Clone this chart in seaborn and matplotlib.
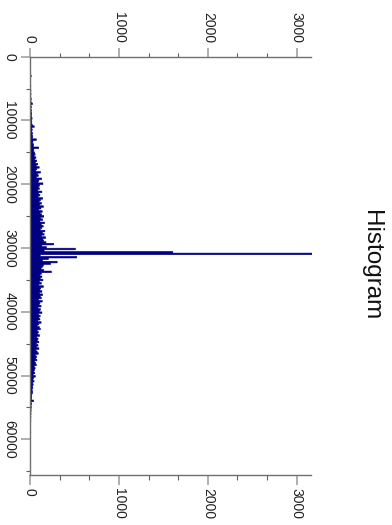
import numpy as np
import pandas as pd
import matplotlib
matplotlib.use("Agg")
import matplotlib.pyplot as plt
from matplotlib.ticker import MultipleLocator
import seaborn as sns

# ---- data: 256 bins of width 256 over 0..65536 ----
bin_width = 256
counts = [
    0, 0, 0, 0, 1, 0, 0, 2, 0, 1, 3, 8, 2, 1, 0, 3,
    2, 4, 1, 3, 5, 2, 6, 3, 4, 8, 5, 7, 22, 6, 9, 5,
    10, 7, 14, 9, 12, 18, 11, 15, 13, 20, 42, 16, 19, 14, 22, 18,
    25, 21, 66, 28, 24, 35, 31, 92, 38, 34, 45, 52, 40, 61, 48, 70,
    55, 82, 64, 98, 71, 60, 112, 79, 88, 68, 125, 95, 84, 140, 102, 90,
    100, 82, 128, 92, 106, 86, 136, 112, 98, 123, 104, 145, 117, 94, 132, 109,
    126, 149, 115, 136, 106, 157, 121, 143, 128, 110, 162, 134, 153, 123, 170, 140,
    149, 174, 260, 128, 179, 505, 153, 1600, 3300, 110, 520, 200, 136, 300, 225, 145,
    132, 119, 149, 235, 123, 106, 128, 110, 140, 102, 123, 94, 145, 115, 106, 128,
    100, 136, 110, 121, 92, 132, 106, 98, 119, 85, 112, 102, 128, 89, 109, 95,
    106, 83, 119, 94, 78, 100, 110, 75, 89, 81, 102, 70, 85, 77, 94, 66,
    85, 70, 95, 62, 75, 88, 55, 68, 60, 72, 48, 58, 65, 42, 52, 45,
    38, 48, 30, 55, 35, 28, 40, 25, 30, 22, 26, 18, 20, 24, 15, 12,
    14, 10, 35, 8, 12, 6, 9, 5, 7, 4, 6, 3, 5, 2, 4, 3,
    2, 3, 1, 2, 1, 3, 1, 0, 2, 1, 0, 1, 0, 1, 0, 0,
    0, 1, 0, 0, 0, 0, 1, 0, 0, 0, 0, 0, 0, 0, 0, 0,
]
value_ticks = [0, 10000, 20000, 30000, 40000, 50000, 60000]
count_ticks = [0, 1000, 2000, 3000]
title = "Histogram"

n_bins = len(counts)
centers = np.arange(n_bins) * bin_width + bin_width / 2
df = pd.DataFrame({"value": centers, "count": counts})

sns.set_theme(style="white")
plt.rcParams["font.family"] = ["Liberation Sans", "DejaVu Sans"]

W, H = 392, 525
fig = plt.figure(figsize=(W / 100, H / 100), dpi=100)
ax = fig.add_axes([30 / W, 1 - 474.6 / H, (311 - 30) / W, (474.6 - 56.7) / H])

sns.histplot(data=df, y="value", weights="count", binwidth=bin_width,
             binrange=(0, n_bins * bin_width), element="step",
             fill=True, color="#000080", alpha=1.0, linewidth=0.4, ax=ax)

ax.set_xlim(0, 3160)
ax.set_ylim(65536, 0)
ax.set_xlabel("")
ax.set_ylabel("")

ax.set_xticks(count_ticks)
ax.set_xticklabels([str(t) for t in count_ticks])
ax.xaxis.set_minor_locator(MultipleLocator(1000 / 3))
ax.set_yticks(value_ticks)
ax.set_yticklabels([str(t) for t in value_ticks])
ax.yaxis.set_minor_locator(MultipleLocator(5000))

ax.xaxis.set_ticks_position("both")
ax.tick_params(axis="x", which="both", top=True, bottom=True,
               labeltop=True, labelbottom=True, direction="out")
ax.tick_params(axis="y", which="both", left=True, right=False, direction="out")
ax.tick_params(which="major", length=9.5 * 0.72, width=1.3, color="#a8a8a8",
               labelsize=10, labelcolor="#222222", pad=3)
ax.tick_params(which="minor", length=4.5 * 0.72, width=0.8, color="#606060")
ax.tick_params(axis="x", which="major", labelrotation=-90)
ax.tick_params(axis="y", which="major", labelrotation=-90)

for lab in ax.get_yticklabels():
    lab.set_verticalalignment("center")

for side in ["left", "top", "bottom"]:
    ax.spines[side].set_visible(True)
    ax.spines[side].set_color("#707070")
    ax.spines[side].set_linewidth(1.0)
ax.spines["right"].set_visible(False)
ax.grid(False)

fig.text(371 / W, 1 - 265 / H, title, rotation=-90, ha="center", va="center",
         fontsize=17.5, color="#111111")

fig.savefig("out.png", dpi=100)
